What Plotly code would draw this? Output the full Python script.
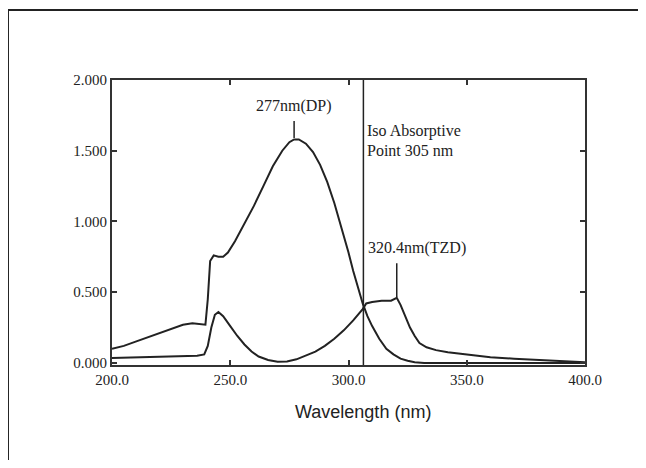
import plotly.graph_objects as go

# ---- data ----
wl_dp = [200, 205, 210, 215, 220, 225, 230, 234, 238, 239.5, 240.5, 241.5, 243, 245, 247, 249,
         252, 256, 260, 264, 268, 272, 275, 277, 279, 282, 285, 288, 291, 294, 297, 300, 302,
         304, 306, 308, 310, 313, 316, 319, 322, 325, 328, 332, 340, 360, 380, 400]
abs_dp = [0.10, 0.12, 0.15, 0.18, 0.21, 0.24, 0.27, 0.28, 0.27, 0.27, 0.45, 0.72, 0.76, 0.75,
          0.75, 0.78, 0.86, 0.98, 1.11, 1.25, 1.39, 1.50, 1.56, 1.58, 1.58, 1.55, 1.49, 1.40,
          1.28, 1.13, 0.96, 0.78, 0.65, 0.53, 0.42, 0.33, 0.26, 0.17, 0.10, 0.06, 0.03, 0.015,
          0.005, 0.0, 0.0, 0.0, 0.0, 0.0]

wl_tzd = [200, 210, 220, 230, 236, 239, 240.5, 242, 243.5, 245, 247, 250, 253, 256, 259, 262,
          266, 270, 274, 278, 282, 286, 290, 294, 298, 302, 306, 307.5, 310, 314, 318, 320.4,
          322, 324, 326, 328, 330, 333, 337, 342, 350, 360, 370, 380, 390, 400]
abs_tzd = [0.035, 0.04, 0.045, 0.05, 0.05, 0.06, 0.12, 0.25, 0.34, 0.36, 0.33, 0.26, 0.19, 0.13,
           0.08, 0.045, 0.02, 0.008, 0.01, 0.025, 0.05, 0.08, 0.12, 0.17, 0.23, 0.30, 0.38, 0.42,
           0.43, 0.44, 0.44, 0.46, 0.41, 0.33, 0.25, 0.19, 0.14, 0.11, 0.09, 0.075, 0.06, 0.04,
           0.03, 0.02, 0.01, 0.005]

x_ticks = [200, 250, 300, 350, 400]
x_tick_labels = ["200.0", "250.0", "300.0", "350.0", "400.0"]
y_ticks = [0, 0.5, 1.0, 1.5, 2.0]
y_tick_labels = ["0.000", "0.500", "1.000", "1.500", "2.000"]

iso_point = 306.3
dp_peak = 277
tzd_peak = 320.4

INK = "#222222"
SERIF = "Liberation Serif, Times New Roman, serif"

fig = go.Figure()
fig.add_trace(go.Scatter(x=wl_dp, y=abs_dp, mode="lines",
                         line=dict(color=INK, width=2), showlegend=False))
fig.add_trace(go.Scatter(x=wl_tzd, y=abs_tzd, mode="lines",
                         line=dict(color=INK, width=2), showlegend=False))

shapes = [
    # iso-absorptive vertical line
    dict(type="line", xref="x", yref="y", x0=iso_point, x1=iso_point, y0=-0.015, y1=2.0,
         line=dict(color=INK, width=1.5)),
    # peak markers
    dict(type="line", xref="x", yref="y", x0=dp_peak, x1=dp_peak, y0=1.59, y1=1.71,
         line=dict(color=INK, width=1.5)),
    dict(type="line", xref="x", yref="y", x0=tzd_peak, x1=tzd_peak, y0=0.465, y1=0.705,
         line=dict(color=INK, width=1.5)),
    # outer image frame (top and left)
    dict(type="line", xref="paper", yref="paper", x0=-0.2199, x1=1.3, y0=1.2456, y1=1.2456,
         line=dict(color=INK, width=2)),
    dict(type="line", xref="paper", yref="paper", x0=-0.2199, x1=-0.2199, y0=-0.5, y1=1.2456,
         line=dict(color=INK, width=2)),
]

annotations = [
    dict(x=dp_peak, y=1.815, xref="x", yref="y", text="277nm(DP)", showarrow=False,
         font=dict(family=SERIF, size=16, color=INK), xanchor="center", yanchor="middle"),
    dict(x=iso_point + 0.6, y=1.64, xref="x", yref="y", text="Iso Absorptive", showarrow=False,
         font=dict(family=SERIF, size=16, color=INK), xanchor="left", yanchor="middle"),
    dict(x=iso_point + 0.6, y=1.50, xref="x", yref="y", text="Point 305 nm", showarrow=False,
         font=dict(family=SERIF, size=16, color=INK), xanchor="left", yanchor="middle"),
    dict(x=iso_point + 1.0, y=0.81, xref="x", yref="y", text="320.4nm(TZD)", showarrow=False,
         font=dict(family=SERIF, size=16, color=INK), xanchor="left", yanchor="middle"),
    dict(x=0.53, y=-0.165, xref="paper", yref="paper", text="Wavelength (nm)", showarrow=False,
         font=dict(family="Liberation Sans, Arial, sans-serif", size=18, color="#222222"),
         xanchor="center", yanchor="middle"),
]

fig.update_layout(
    width=638, height=452,
    margin=dict(l=104, r=61, t=72, b=95),
    paper_bgcolor="white", plot_bgcolor="white",
    shapes=shapes, annotations=annotations,
    showlegend=False,
)
fig.update_xaxes(range=[200, 400], tickmode="array", tickvals=x_ticks, ticktext=x_tick_labels,
                 showgrid=False, zeroline=False, showline=True, linecolor="#333333", linewidth=2,
                 mirror="ticks", ticks="inside", ticklen=5, tickwidth=1.5, tickcolor="#333333",
                 tickfont=dict(family=SERIF, size=15, color=INK))
fig.update_yaxes(range=[-0.015, 2.0], tickmode="array", tickvals=y_ticks, ticktext=y_tick_labels,
                 showgrid=False, zeroline=False, showline=True, linecolor="#333333", linewidth=2,
                 mirror="ticks", ticks="inside", ticklen=5, tickwidth=1.5, tickcolor="#333333",
                 tickfont=dict(family=SERIF, size=15, color=INK))

fig.write_html("out.html")
